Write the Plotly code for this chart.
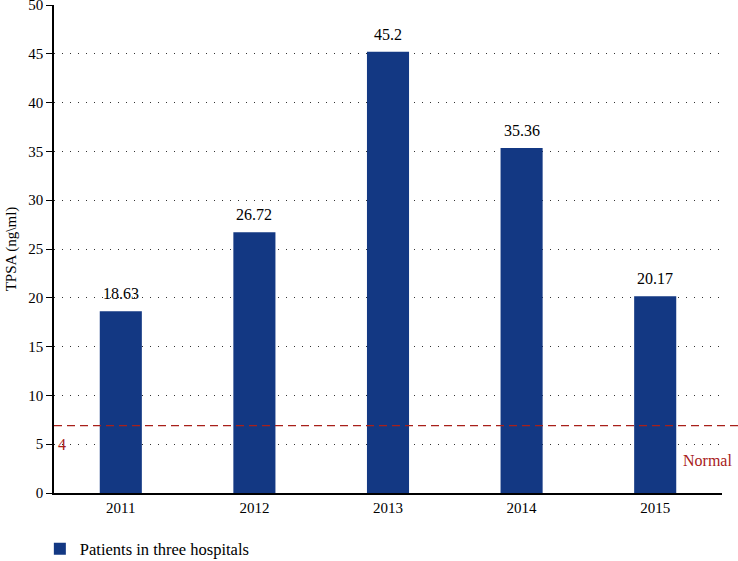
import plotly.graph_objects as go

years = ["2011", "2012", "2013", "2014", "2015"]
tpsa = [18.63, 26.72, 45.2, 35.36, 20.17]
series_name = "Patients in three hospitals"
normal_level = 6.9
normal_left_label = "4"
normal_right_label = "Normal"
y_ticks = [0, 5, 10, 15, 20, 25, 30, 35, 40, 45, 50]

FONT = "Liberation Serif"
NAVY = "#133883"
RED = "#a8201a"

fig = go.Figure()
fig.add_trace(go.Bar(
    x=years, y=tpsa, name=series_name,
    marker=dict(color=NAVY, line=dict(width=0)),
    showlegend=True,
))

# value labels: category index positions on the category axis
for i, v in enumerate(tpsa):
    fig.add_annotation(xref="x", yref="y", x=i, y=v, text=str(v), showarrow=False,
                       yanchor="bottom", yshift=7,
                       font=dict(family=FONT, size=16, color="black"))

fig.add_shape(type="line", xref="paper", yref="y", x0=0, x1=1.03,
              y0=normal_level, y1=normal_level,
              line=dict(color=RED, width=1.3, dash="8px,5px"), layer="above")
fig.add_annotation(xref="paper", yref="y", x=0.0, y=normal_level, text=normal_left_label,
                   showarrow=False, xanchor="left", yanchor="top", yshift=-8, xshift=2,
                   font=dict(family=FONT, size=16, color=RED))
fig.add_annotation(xref="paper", yref="y", x=1.0, y=normal_level, text=normal_right_label,
                   showarrow=False, xanchor="right", yanchor="top", yshift=-24, xshift=12,
                   font=dict(family=FONT, size=16, color=RED))

fig.update_layout(
    width=738, height=561,
    margin=dict(l=54, r=16, t=5, b=68),
    plot_bgcolor="white", paper_bgcolor="white",
    font=dict(family=FONT, size=15, color="black"),
    bargap=0.685,
    legend=dict(orientation="h", xref="container", yref="container", x=0.054, y=0.0214,
                xanchor="left", yanchor="middle",
                font=dict(family=FONT, size=16.5, color="black"), itemwidth=30),
    xaxis=dict(type="category", categoryorder="array", categoryarray=years,
               showline=True, linecolor="black", linewidth=1.5, ticks="",
               showgrid=False, automargin=False, tickfont=dict(family=FONT, size=15)),
    yaxis=dict(range=[0, 50], tickvals=y_ticks, showline=True, linecolor="black", linewidth=1.5,
               ticks="outside", ticklen=6, tickcolor="black", automargin=False,
               ticklabeloverflow="allow",
               showgrid=True, gridcolor="#333333", gridwidth=1, griddash="1px,7px",
               zeroline=False,
               title=dict(text="TPSA (ng\\ml)", font=dict(family=FONT, size=15), standoff=8),
               tickfont=dict(family=FONT, size=15)),
)

fig.write_html("out.html", config={"displayModeBar": False},
               post_script="document.body.style.margin='0';document.body.style.overflow='hidden';")
